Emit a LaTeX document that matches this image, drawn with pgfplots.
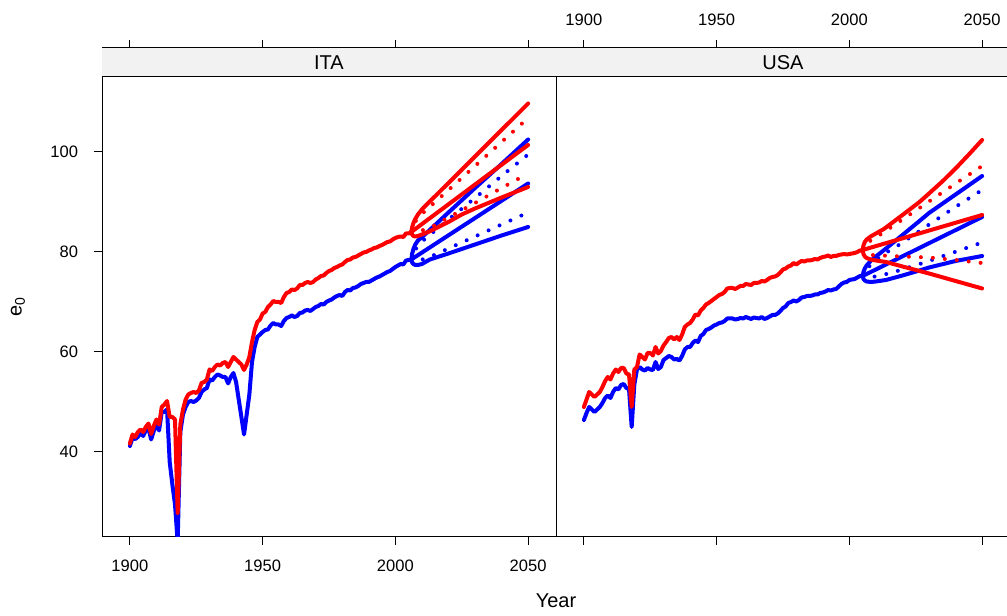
\documentclass[border=0pt]{standalone}
\usepackage{pgfplots}
\pgfplotsset{compat=1.18}
\usepackage{fontspec}
\setmainfont{Liberation Sans}
\definecolor{stripgray}{RGB}{242,242,242}

% ---------------- ITA history ----------------
\pgfplotstableread{
year m f
1900 41.2 41.7
1901 42.8 43.5
1902 42.6 43.0
1903 43.0 44.0
1904 43.8 44.5
1905 43.2 44.0
1906 44.3 45.0
1907 44.8 45.7
1908 42.5 43.6
1909 44.2 45.2
1910 45.5 46.5
1911 44.3 45.5
1912 48.0 49.0
1913 48.0 49.5
1914 48.5 50.2
1915 38.0 47.0
1916 33.5 47.0
1917 29.5 46.5
1918 22.0 27.7
1919 44.0 45.5
1920 47.5 48.5
1921 49.0 50.5
1922 50.0 51.5
1923 50.2 51.8
1924 50.0 52.0
1925 50.3 51.8
1926 50.8 52.3
1927 52.0 53.8
1928 52.5 54.0
1929 52.8 54.5
1930 54.5 56.5
1931 54.3 56.2
1932 55.0 57.0
1933 55.5 57.5
1934 55.3 57.3
1935 55.0 57.8
1936 55.0 58.0
1937 53.7 57.0
1938 55.0 58.0
1939 55.8 59.0
1940 54.0 58.5
1941 50.5 58.0
1942 47.0 57.5
1943 43.5 56.4
1944 47.5 57.5
1945 51.5 59.0
1946 58.0 62.0
1947 61.0 64.4
1948 63.0 66.0
1949 63.5 66.5
1950 64.0 67.7
1951 64.4 68.0
1952 64.5 69.0
1953 65.3 69.5
1954 65.8 70.2
1955 65.5 70.0
1956 65.5 70.0
1957 65.2 69.8
1958 66.2 71.0
1959 66.8 71.8
1960 67.0 72.0
1961 67.3 72.5
1962 67.0 72.4
1963 67.2 72.7
1964 67.8 73.4
1965 67.9 73.4
1966 68.3 73.8
1967 68.4 74.0
1968 68.2 73.8
1969 68.6 74.0
1970 69.0 74.5
1971 69.2 74.8
1972 69.6 75.2
1973 69.5 75.3
1974 70.0 75.8
1975 70.3 76.2
1976 70.5 76.4
1977 70.9 76.8
1978 71.2 77.0
1979 71.4 77.3
1980 71.2 77.5
1981 72.0 78.0
1982 72.4 78.4
1983 72.3 78.5
1984 72.8 78.9
1985 72.9 79.0
1986 73.2 79.3
1987 73.6 79.6
1988 73.8 79.9
1989 74.0 80.0
1990 74.0 80.3
1991 74.3 80.5
1992 74.6 80.8
1993 74.9 80.9
1994 75.1 81.2
1995 75.4 81.4
1996 75.7 81.7
1997 76.0 82.0
1998 76.2 82.1
1999 76.6 82.5
2000 77.0 82.8
2001 77.3 83.0
2002 77.6 83.1
2003 77.5 83.0
2004 78.3 83.7
2005 78.4 83.7
2006 78.5 84.0
}\itahist

% ---------------- USA history ----------------
\pgfplotstableread{
year m f
1900 46.4 49.0
1901 47.8 50.5
1902 49.0 52.0
1903 48.5 51.5
1904 48.0 51.0
1905 48.5 51.5
1906 49.0 52.0
1907 49.8 53.0
1908 50.8 54.2
1909 51.3 55.0
1910 50.8 54.5
1911 52.0 55.7
1912 52.8 56.5
1913 52.5 56.0
1914 53.4 56.8
1915 53.6 56.8
1916 52.8 55.7
1917 52.6 55.5
1918 45.0 49.0
1919 53.5 56.5
1920 56.5 57.0
1921 57.0 59.5
1922 56.5 59.0
1923 56.3 58.5
1924 56.8 59.8
1925 56.5 59.8
1926 56.4 59.3
1927 58.0 61.0
1928 56.6 59.7
1929 57.0 60.2
1930 58.4 61.3
1931 58.8 62.0
1932 59.2 62.8
1933 59.0 63.0
1934 58.5 62.5
1935 58.6 63.0
1936 58.3 62.4
1937 59.2 63.5
1938 60.5 65.0
1939 61.0 65.5
1940 61.0 65.8
1941 61.8 66.5
1942 62.3 67.5
1943 62.0 67.3
1944 63.2 68.3
1945 63.6 68.8
1946 64.4 69.5
1947 64.6 69.8
1948 64.9 70.2
1949 65.3 70.6
1950 65.5 71.0
1951 65.8 71.4
1952 65.9 71.6
1953 66.2 72.0
1954 66.7 72.7
1955 66.7 72.8
1956 66.7 72.8
1957 66.5 72.6
1958 66.6 72.9
1959 66.8 73.2
1960 66.7 73.2
1961 67.0 73.6
1962 66.8 73.5
1963 66.6 73.4
1964 66.9 73.8
1965 66.8 73.8
1966 66.7 73.9
1967 67.0 74.2
1968 66.6 74.1
1969 66.8 74.4
1970 67.1 74.8
1971 67.4 75.0
1972 67.4 75.1
1973 67.7 75.4
1974 68.2 75.9
1975 68.8 76.5
1976 69.1 76.7
1977 69.8 77.1
1978 70.0 77.3
1979 70.3 77.8
1980 70.1 77.5
1981 70.4 77.9
1982 70.9 78.2
1983 71.0 78.1
1984 71.2 78.3
1985 71.2 78.3
1986 71.3 78.4
1987 71.5 78.6
1988 71.5 78.5
1989 71.8 78.8
1990 71.9 79.0
1991 72.1 79.1
1992 72.4 79.3
1993 72.3 79.0
1994 72.5 79.2
1995 72.6 79.2
1996 73.1 79.4
1997 73.6 79.5
1998 73.9 79.6
1999 74.0 79.5
2000 74.4 79.6
2001 74.5 79.7
2002 74.6 79.8
2003 74.9 80.0
2004 75.2 80.3
2005 75.2 80.4
}\usahist

\pgfplotsset{
  panel/.style={
    scale only axis, anchor=south west,
    width=340.5pt, height=366.75pt,
    xmin=1889.5, xmax=2060.5, ymin=23, ymax=120.8,
    xtick={1900,1950,2000,2050},
    tick align=outside, major tick length=6pt,
    tick style={black, line width=0.75pt},
    axis line style={line width=0.75pt},
    every tick label/.append style={font=\fontsize{12.4}{14}\selectfont},
    /pgf/number format/assume math mode=true,
    /pgf/number format/1000 sep={},
    clip=true,
  },
  hist/.style={line width=3pt, line join=round, line cap=round},
  fc/.style={line width=3pt, line join=round, line cap=round},
  dt/.style={line width=3pt, line cap=round, dash pattern=on 0pt off 9pt},
}

\begin{document}
\begin{tikzpicture}
\useasboundingbox (0,0) rectangle (755.25pt,462pt);

% ===================== ITA =====================
\begin{axis}[panel, at={(76.5pt,59.25pt)},
  xtick pos=both, xticklabel pos=bottom,
  xticklabel style={yshift=-7.5pt},
  ytick={40,60,80,100}, ytick pos=left,
  yticklabel style={xshift=-8.5pt}]
\fill[stripgray] (axis cs:1889.5,115) rectangle (axis cs:2060.5,120.8);
\draw[line width=0.75pt] (axis cs:1889.5,115) -- (axis cs:2060.5,115);
\node[font=\fontsize{15}{17}\selectfont] at (axis cs:1975,117.9) {ITA};
% males
\addplot[blue, hist] table[x=year,y=m] {\itahist};
\addplot[blue, fc] coordinates {(2006,78.5) (2006.3,79.6) (2006.8,80.6) (2007.5,81.5) (2008.5,82.3) (2010.3,83.1) (2020,87.9) (2030,92.8) (2040,97.6) (2050,102.5)};
\addplot[blue, fc] coordinates {(2006,78.5) (2050,93.7)};
\addplot[blue, fc] coordinates {(2006,78.5) (2006.3,77.9) (2006.8,77.6) (2007.5,77.4) (2008.5,77.4) (2010,77.6) (2013,78.5) (2020,79.7) (2030,81.5) (2040,83.3) (2050,85.0)};
\addplot[blue, dt] coordinates {(2006,78.5) (2007,79.8) (2008,80.9) (2010,82.1) (2012,83.0) (2020,86.5) (2030,90.8) (2040,95.2) (2050,99.5)};
\addplot[blue, dt] coordinates {(2006,78.5) (2007,78.2) (2009,78.3) (2013,79.0) (2020,80.7) (2030,83.1) (2040,85.5) (2050,87.9)};
% females
\addplot[red, hist] table[x=year,y=f] {\itahist};
\addplot[red, fc] coordinates {(2006,84.0) (2006.3,84.9) (2006.8,85.8) (2007.5,86.6) (2008.5,87.5) (2010.3,88.7) (2020,93.8) (2030,99.1) (2040,104.4) (2050,109.7)};
\addplot[red, fc] coordinates {(2006,84.0) (2050,101.4)};
\addplot[red, fc] coordinates {(2006,84.0) (2006.3,83.5) (2006.8,83.2) (2007.5,83.1) (2008.5,83.2) (2010,83.5) (2012.8,84.1) (2020,86.0) (2025,87.5) (2030,88.7) (2040,90.9) (2050,93.0)};
\addplot[red, dt] coordinates {(2006,84.0) (2007,85.5) (2008,86.5) (2009.5,87.4) (2011,88.1) (2020,92.4) (2030,97.2) (2040,102.0) (2050,106.8)};
\addplot[red, dt] coordinates {(2006,84.0) (2007,83.9) (2009,84.1) (2011,84.5) (2014,85.1) (2020,86.9) (2030,89.8) (2040,92.8) (2050,95.7)};
\end{axis}

% ===================== USA =====================
\begin{axis}[panel, at={(417pt,59.25pt)},
  xtick pos=both, xticklabel pos=top,
  xticklabel style={yshift=7.5pt},
  ytick=\empty]
\fill[stripgray] (axis cs:1889.5,115) rectangle (axis cs:2060.5,120.8);
\draw[line width=0.75pt] (axis cs:1889.5,115) -- (axis cs:2060.5,115);
\node[font=\fontsize{15}{17}\selectfont] at (axis cs:1975,117.9) {USA};
% males
\addplot[blue, hist] table[x=year,y=m] {\usahist};
\addplot[blue, fc] coordinates {(2005,75.2) (2005.3,76.0) (2005.8,76.7) (2006.5,77.3) (2008,78.2) (2010,79.1) (2013.8,80.7) (2020,83.4) (2026.4,86.2) (2030,87.8) (2040,91.5) (2050,95.2)};
\addplot[blue, fc] coordinates {(2005,75.2) (2050,87.0)};
\addplot[blue, fc] coordinates {(2005,75.2) (2005.3,74.6) (2005.8,74.3) (2006.5,74.1) (2008,74.0) (2010,74.1) (2013.8,74.4) (2020,75.3) (2026.4,76.3) (2030,76.9) (2040,78.2) (2050,79.2)};
\addplot[blue, dt] coordinates {(2005,75.2) (2008,77.5) (2012,79.3) (2018.6,81.4) (2029.2,85.2) (2039.6,88.9) (2050,92.4)};
\addplot[blue, dt] coordinates {(2005,75.2) (2007,75.0) (2010,75.1) (2016.3,75.9) (2028.3,77.9) (2040.3,80.1) (2050,81.9)};
% females
\addplot[red, hist] table[x=year,y=f] {\usahist};
\addplot[red, fc] coordinates {(2005,80.4) (2005.3,81.3) (2005.8,82.0) (2006.5,82.5) (2008,83.1) (2010,83.7) (2013,84.6) (2020,87.4) (2026.4,90.0) (2030,91.7) (2035,94.1) (2040,96.7) (2045,99.5) (2050,102.4)};
\addplot[red, fc] coordinates {(2005,80.4) (2050,87.4)};
\addplot[red, fc] coordinates {(2005,80.4) (2005.3,79.6) (2005.8,79.1) (2006.5,78.8) (2008,78.5) (2010,78.3) (2013.8,78.0) (2020,77.1) (2030,75.7) (2040,74.2) (2050,72.7)};
\addplot[red, dt] coordinates {(2005,80.4) (2006,81.2) (2008,82.3) (2012,83.6) (2020,86.5) (2030,90.1) (2040,93.7) (2050,97.2)};
\addplot[red, dt] coordinates {(2005,80.4) (2006,79.8) (2008,79.4) (2020,79.1) (2030,78.9) (2040,78.4) (2050,77.8)};
\end{axis}

% axis titles
\node[font=\fontsize{15}{17}\selectfont] at (417pt,11.25pt) {Year};
\node[font=\fontsize{15}{17}\selectfont, rotate=90] at (13.5pt,231.75pt) {e\textsubscript{0}};
\end{tikzpicture}
\end{document}
